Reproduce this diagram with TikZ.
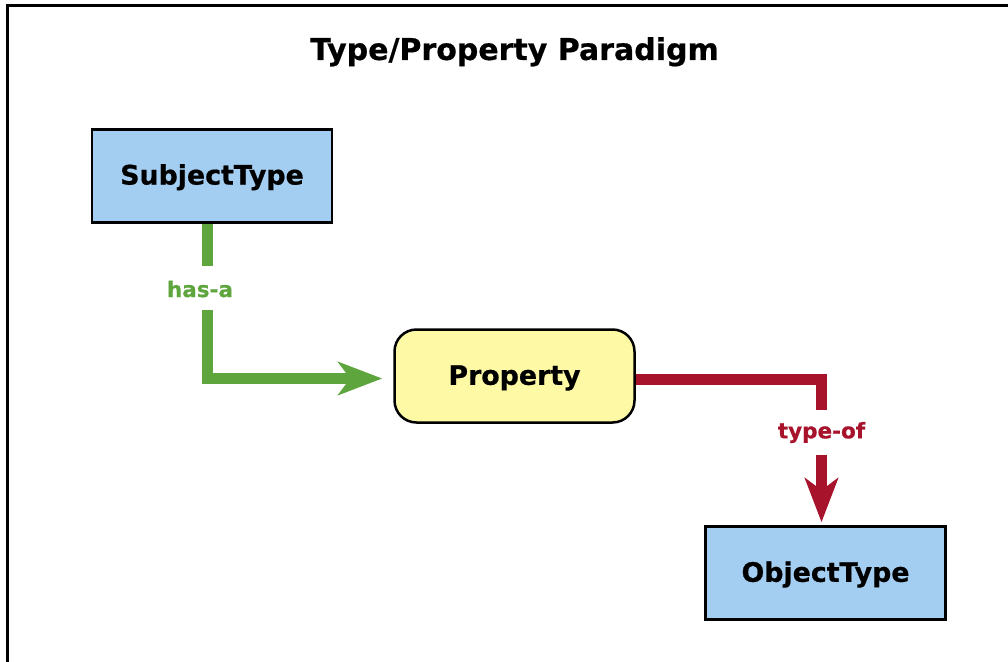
\documentclass[tikz,border=0pt]{standalone}
\usepackage{fontspec}
\setmainfont{DejaVu Sans}[BoldFeatures={FakeBold=0.6}]
\usetikzlibrary{arrows.meta}
\definecolor{boxblue}{RGB}{163,205,241}
\definecolor{boxyellow}{RGB}{253,249,164}
\definecolor{linkgreen}{RGB}{95,165,62}
\definecolor{linkred}{RGB}{168,19,44}
\tikzset{
  centred/.style={text height=24.3pt, text depth=6.7pt},
  typebox/.style={draw=black, line width=2.5pt, fill=boxblue, minimum width=240pt, minimum height=93pt, inner sep=0pt, centred, font=\fontsize{26.8}{30}\selectfont\bfseries},
  propbox/.style={draw=black, line width=2.5pt, fill=boxyellow, rounded corners=22pt, minimum width=240pt, minimum height=93pt, inner sep=0pt, centred, font=\fontsize{26.8}{30}\selectfont\bfseries},
  linklabel/.style={inner xsep=2pt, inner ysep=0pt, minimum height=44pt, font=\fontsize{21.5}{24}\selectfont\bfseries},
  greenlink/.style={draw=linkgreen, line width=11pt, line join=miter},
  redlink/.style={draw=linkred, line width=11pt, line join=miter},
  bigtip/.style={-{Stealth[length=44pt, width=33pt, inset=12pt]}}
}
\begin{document}
\begin{tikzpicture}[x=1pt,y=-1pt]
\useasboundingbox (0,0) rectangle (1008,661);
\draw[line width=2.8pt] (7.5,5.3) rectangle (1020,680);
\node[text height=29.4pt, text depth=7.5pt, inner sep=0pt, font=\fontsize{30}{34}\selectfont\bfseries] (title) at (514.5,49) {Type/Property Paradigm};
\node[typebox] (sub) at (212,175.75) {SubjectType};
\node[propbox] (prop) at (514.5,376) {Property};
\node[typebox] (obj) at (825.5,573) {ObjectType};
\node[linklabel, text=linkgreen] (hasa) at (200,289) {has-a};
\node[linklabel, text=linkred] (typeof) at (821.5,432.5) {type-of};
\coordinate (gtop) at (207.5,266);
\coordinate (gbot) at (207.5,310);
\coordinate (propout) at ([yshift=-3pt]prop.east);
\draw[greenlink] (gtop |- sub.south) -- (gtop);
\draw[greenlink, bigtip, shorten >=11pt] (gbot) |- ([yshift=-2.5pt]prop.west);
\draw[redlink] (propout) -| (typeof.north);
\draw[redlink, bigtip, shorten >=3pt] (typeof.south) -- (typeof.south |- obj.north);
\end{tikzpicture}
\end{document}
